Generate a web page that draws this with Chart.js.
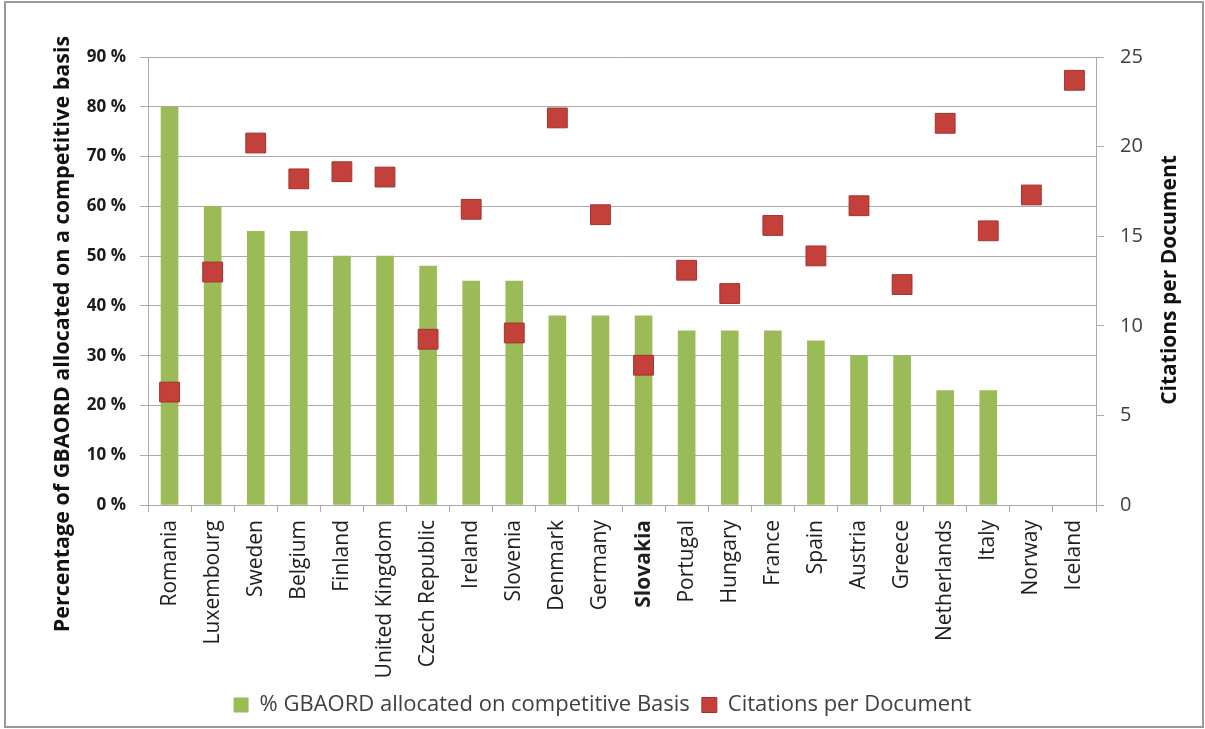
<!DOCTYPE html>
<html>
<head>
<meta charset="utf-8">
<title>Competitive GBAORD funding and citations per document</title>
<script src="https://cdn.jsdelivr.net/npm/chart.js@4.4.1/dist/chart.umd.min.js"></script>
<style>
  html, body { margin: 0; padding: 0; background: #ffffff; }
  canvas { display: block; }
</style>
</head>
<body>
<canvas id="chart" width="1205" height="729"></canvas>
<script>
// Countries along the category axis
const countries = [
  'Romania', 'Luxembourg', 'Sweden', 'Belgium', 'Finland', 'United Kingdom',
  'Czech Republic', 'Ireland', 'Slovenia', 'Denmark', 'Germany', 'Slovakia',
  'Portugal', 'Hungary', 'France', 'Spain', 'Austria', 'Greece',
  'Netherlands', 'Italy', 'Norway', 'Iceland'
];

// Share of GBAORD allocated on a competitive basis (%), no value for Norway/Iceland
const gbaordShare = [
  80, 60, 55, 55, 50, 50,
  48, 45, 45, 38, 38, 38,
  35, 35, 35, 33, 30, 30,
  23, 23, null, null
];

// Citations per document (right axis)
const citationsPerDocument = [
  6.3, 13.0, 20.2, 18.2, 18.6, 18.3,
  9.25, 16.5, 9.6, 21.6, 16.2, 7.8,
  13.1, 11.8, 15.6, 13.9, 16.7, 12.3,
  21.3, 15.3, 17.3, 23.7
];

// Axis ranges and steps
const shareAxis = { min: 0, max: 90, step: 10 };
const citationAxis = { min: 0, max: 25, step: 5 };

const highlightedCountry = 'Slovakia';

const FONT = "'Open Sans', 'DejaVu Sans', sans-serif";
const GREEN = '#9BBB59';
const RED = '#C4403B';
const RED_EDGE = '#A3322E';
const GRID = '#ABABAB';

// Frame around the figure and the two rotated axis titles
const decorations = {
  id: 'decorations',
  beforeLayout(chart) {
    const legend = chart.legend;
    if (legend && !legend._fixedHeight) {
      const fit = legend.fit;
      legend.fit = function () {
        fit.call(this);
        this.height = 47;
      };
      legend._fixedHeight = true;
    }
  },
  afterDraw(chart) {
    const ctx = chart.ctx;
    ctx.save();
    ctx.strokeStyle = '#9A9A9A';
    ctx.lineWidth = 2;
    ctx.strokeRect(5, 2, 1198, 725);

    ctx.fillStyle = '#111111';
    ctx.textAlign = 'center';
    ctx.textBaseline = 'middle';

    ctx.save();
    ctx.translate(63, 334);
    ctx.rotate(-Math.PI / 2);
    ctx.font = "bold 21.5px " + FONT;
    ctx.fillText('Percentage of GBAORD allocated on a competitive basis', 0, 0);
    ctx.restore();

    ctx.save();
    ctx.translate(1170, 280);
    ctx.rotate(-Math.PI / 2);
    ctx.font = "bold 21px " + FONT;
    ctx.fillText('Citations per Document', 0, 0);
    ctx.restore();

    ctx.restore();
  }
};

new Chart(document.getElementById('chart'), {
  data: {
    labels: countries,
    datasets: [
      {
        type: 'bar',
        label: '% GBAORD allocated on competitive Basis',
        data: gbaordShare,
        backgroundColor: GREEN,
        borderWidth: 0,
        barThickness: 17,
        yAxisID: 'y',
        order: 2
      },
      {
        type: 'line',
        label: 'Citations per Document',
        data: citationsPerDocument,
        showLine: false,
        pointStyle: 'rect',
        pointRadius: 14,
        pointHoverRadius: 14,
        backgroundColor: RED,
        borderColor: RED_EDGE,
        borderWidth: 1,
        pointBackgroundColor: RED,
        pointBorderColor: RED_EDGE,
        pointBorderWidth: 1,
        yAxisID: 'y1',
        order: 1
      }
    ]
  },
  options: {
    responsive: false,
    animation: false,
    events: [],
    layout: { padding: { top: 57, left: 0, right: 0, bottom: 0 } },
    plugins: {
      tooltip: { enabled: false },
      legend: {
        display: true,
        position: 'bottom',
        labels: {
          font: { family: FONT, size: 22 },
          color: '#404040',
          boxWidth: 15,
          boxHeight: 15,
          padding: 12,
          sort: (a, b) => a.datasetIndex - b.datasetIndex
        }
      }
    },
    scales: {
      x: {
        type: 'category',
        offset: true,
        grid: {
          display: true,
          offset: true,
          drawOnChartArea: false,
          drawTicks: true,
          tickLength: 7,
          color: GRID
        },
        border: { display: true, color: GRID, width: 1 },
        ticks: {
          autoSkip: false,
          minRotation: 90,
          maxRotation: 90,
          padding: 8,
          color: '#1E1E1E',
          font: (c) => ({
            family: FONT,
            size: 21,
            weight: (c.tick && c.tick.label === highlightedCountry) ? 'bold' : 'normal'
          })
        },
        afterFit: (s) => { s.height = 177; }
      },
      y: {
        type: 'linear',
        position: 'left',
        min: shareAxis.min,
        max: shareAxis.max,
        grid: {
          color: GRID,
          lineWidth: 1,
          drawTicks: true,
          tickLength: 8
        },
        border: { display: true, color: GRID, width: 1 },
        ticks: {
          stepSize: shareAxis.step,
          padding: 14,
          color: '#1A1A1A',
          font: { family: FONT, size: 17, weight: 'bold' },
          callback: (v) => v + ' %'
        },
        afterFit: (s) => { s.width = 148; }
      },
      y1: {
        type: 'linear',
        position: 'right',
        min: citationAxis.min,
        max: citationAxis.max,
        grid: {
          drawOnChartArea: false,
          drawTicks: true,
          tickLength: 8,
          color: GRID
        },
        border: { display: true, color: GRID, width: 1 },
        ticks: {
          stepSize: citationAxis.step,
          padding: 16,
          color: '#404040',
          font: { family: FONT, size: 20 }
        },
        afterFit: (s) => { s.width = 109; }
      }
    }
  },
  plugins: [decorations]
});
</script>
</body>
</html>
